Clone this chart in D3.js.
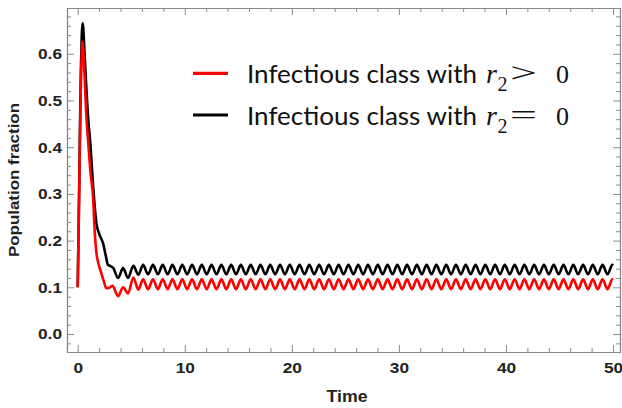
<!DOCTYPE html>
<html><head><meta charset="utf-8">
<script src="https://cdn.jsdelivr.net/npm/d3@7"></script>
<style>body{margin:0;background:#fff}</style>
</head><body><svg id="c" width="622" height="408"></svg>
<script>
// ---- data ----
const xTicks = [0, 10, 20, 30, 40, 50];
const yTicks = [0.0, 0.1, 0.2, 0.3, 0.4, 0.5, 0.6];
const xLabel = "Time";
const yLabel = "Population fraction";
const seriesNames = ["Infectious class with", "Infectious class with"];
const seriesRel = [">", "="];
const seriesColors = ["#ff0000", "#000000"];

// transient part
const blackT = [0, 0.1, 0.2, 0.3, 0.38, 0.45, 0.52, 0.6, 0.8, 1.0, 1.18, 1.4, 1.6, 1.75, 2.0, 2.37, 2.6, 2.83, 3.1, 3.3, 3.77, 4.24, 4.70];
const blackV = [0.10, 0.25, 0.42, 0.57, 0.64, 0.665, 0.655, 0.62, 0.53, 0.455, 0.408, 0.33, 0.27, 0.237, 0.215, 0.194, 0.17, 0.148, 0.145, 0.142, 0.120, 0.141, 0.120];
const redT = [0, 0.1, 0.2, 0.3, 0.38, 0.45, 0.52, 0.6, 0.8, 0.99, 1.2, 1.43, 1.6, 1.75, 1.95, 2.21, 2.45, 2.68, 2.95, 3.24, 3.77, 4.24, 4.70];
const redV = [0.10, 0.24, 0.40, 0.54, 0.605, 0.626, 0.612, 0.575, 0.47, 0.408, 0.345, 0.294, 0.215, 0.173, 0.15, 0.130, 0.112, 0.098, 0.099, 0.103, 0.081, 0.100, 0.087];

// steady oscillation: times of successive peaks / troughs
const oscT = [5.20, 5.66, 6.11, 6.57, 7.03, 7.49, 7.94, 8.40, 8.85, 9.31, 9.77, 10.22, 10.68, 11.14, 11.59, 12.05,
  12.50, 12.96, 13.42, 13.88, 14.33, 14.79, 15.24, 15.70, 16.16, 16.62, 17.07, 17.53, 17.98, 18.44, 18.90, 19.35,
  19.81, 20.27, 20.72, 21.18, 21.63, 22.09, 22.55, 23.01, 23.46, 23.92, 24.37, 24.83, 25.29, 25.75, 26.20, 26.66,
  27.11, 27.57, 28.03, 28.48, 28.94, 29.40, 29.85, 30.31, 30.76, 31.22, 31.68, 32.14, 32.59, 33.05, 33.50, 33.96,
  34.42, 34.87, 35.33, 35.79, 36.24, 36.70, 37.16, 37.61, 38.07, 38.53, 38.98, 39.44, 39.89, 40.35, 40.81, 41.27,
  41.72, 42.18, 42.63, 43.09, 43.55, 44.00, 44.46, 44.92, 45.37, 45.83, 46.29, 46.74, 47.20, 47.66, 48.11, 48.57,
  49.02, 49.48, 49.94, 50.0];
const blackOsc = [0.146, 0.127, 0.148, 0.128, 0.148, 0.128, 0.148, 0.128, 0.148, 0.128, 0.148, 0.128, 0.148, 0.128, 0.148, 0.128,
  0.148, 0.128, 0.148, 0.128, 0.148, 0.128, 0.148, 0.128, 0.148, 0.128, 0.148, 0.128, 0.148, 0.128, 0.148, 0.128,
  0.148, 0.128, 0.148, 0.128, 0.148, 0.128, 0.148, 0.128, 0.148, 0.128, 0.148, 0.128, 0.148, 0.128, 0.148, 0.128,
  0.148, 0.128, 0.148, 0.128, 0.148, 0.128, 0.148, 0.128, 0.148, 0.128, 0.148, 0.128, 0.148, 0.128, 0.148, 0.128,
  0.148, 0.128, 0.148, 0.128, 0.148, 0.128, 0.148, 0.128, 0.148, 0.128, 0.148, 0.128, 0.148, 0.128, 0.148, 0.128,
  0.148, 0.128, 0.148, 0.128, 0.148, 0.128, 0.148, 0.128, 0.148, 0.128, 0.148, 0.128, 0.148, 0.128, 0.148, 0.128,
  0.148, 0.128, 0.148, 0.147];
const redOsc = [0.121, 0.095, 0.117, 0.096, 0.117, 0.096, 0.117, 0.096, 0.117, 0.096, 0.117, 0.096, 0.117, 0.096, 0.117, 0.096,
  0.117, 0.096, 0.117, 0.096, 0.117, 0.096, 0.117, 0.096, 0.117, 0.096, 0.117, 0.096, 0.117, 0.096, 0.117, 0.096,
  0.117, 0.096, 0.117, 0.096, 0.117, 0.096, 0.117, 0.096, 0.117, 0.096, 0.117, 0.096, 0.117, 0.096, 0.117, 0.096,
  0.117, 0.096, 0.117, 0.096, 0.117, 0.096, 0.117, 0.096, 0.117, 0.096, 0.117, 0.096, 0.117, 0.096, 0.117, 0.096,
  0.117, 0.096, 0.117, 0.096, 0.117, 0.096, 0.117, 0.096, 0.117, 0.096, 0.117, 0.096, 0.117, 0.096, 0.117, 0.096,
  0.117, 0.096, 0.117, 0.096, 0.117, 0.096, 0.117, 0.096, 0.117, 0.096, 0.117, 0.096, 0.117, 0.096, 0.117, 0.096,
  0.117, 0.096, 0.117, 0.116];

// ---- layout ----
const svg = d3.select("#c");
const x = d3.scaleLinear().domain([-1.0, 50.65]).range([67, 620]);
const y = d3.scaleLinear().domain([-0.0385, 0.698]).range([352, 8]);
const frameColor = "#8a8a8a";
const axisFont = "'Liberation Sans', Arial, sans-serif";

svg.append("rect").attr("width", 622).attr("height", 408).attr("fill", "#fff");

const toPts = (T, V) => T.map((t, i) => [t, V[i]]);
const blackPts = toPts(blackT, blackV).concat(toPts(oscT, blackOsc));
const redPts = toPts(redT, redV).concat(toPts(oscT, redOsc));

const line = d3.line().x(d => x(d[0])).y(d => y(d[1])).curve(d3.curveMonotoneX);
svg.append("path").attr("d", line(blackPts)).attr("fill", "none").attr("stroke", seriesColors[1]).attr("stroke-width", 2.6).attr("stroke-linejoin", "round");
svg.append("path").attr("d", line(redPts)).attr("fill", "none").attr("stroke", seriesColors[0]).attr("stroke-width", 2.6).attr("stroke-linejoin", "round");

// frame with inward ticks on all four sides
const xMinor = d3.range(0, 51, 2).filter(v => v % 10 !== 0);
const yMinor = d3.range(-0.02, 0.69, 0.02).filter(v => Math.abs(Math.round(v * 10) - v * 10) > 1e-6);
const axB = d3.axisBottom(x).tickValues(xTicks).tickSizeInner(-7).tickSizeOuter(0).tickFormat(d3.format("d")).tickPadding(10);
const axBm = d3.axisBottom(x).tickValues(xMinor).tickSizeInner(-4).tickSizeOuter(0).tickFormat("");
const axT = d3.axisTop(x).tickValues(xTicks).tickSizeInner(-7).tickSizeOuter(0).tickFormat("");
const axTm = d3.axisTop(x).tickValues(xMinor).tickSizeInner(-4).tickSizeOuter(0).tickFormat("");
const axL = d3.axisLeft(y).tickValues(yTicks).tickSizeInner(-7).tickSizeOuter(0).tickFormat(d3.format(".1f")).tickPadding(5);
const axLm = d3.axisLeft(y).tickValues(yMinor).tickSizeInner(-4).tickSizeOuter(0).tickFormat("");
const axR = d3.axisRight(y).tickValues(yTicks).tickSizeInner(-7).tickSizeOuter(0).tickFormat("");
const axRm = d3.axisRight(y).tickValues(yMinor).tickSizeInner(-4).tickSizeOuter(0).tickFormat("");

function put(ax, tr) {
  const g = svg.append("g").attr("transform", tr).call(ax);
  g.selectAll(".domain").attr("stroke", frameColor).attr("stroke-width", 1.2);
  g.selectAll(".tick line").attr("stroke", frameColor).attr("stroke-width", 1);
  g.selectAll("text").attr("font-family", axisFont).attr("font-weight", "bold")
    .attr("font-size", 15).attr("fill", "#222")
    .each(function () {
      const w = this.getComputedTextLength();
      if (w > 0) d3.select(this).attr("textLength", w * 1.15).attr("lengthAdjust", "spacingAndGlyphs");
    });
  return g;
}
put(axB, "translate(0,352)"); put(axBm, "translate(0,352)");
put(axT, "translate(0,8)"); put(axTm, "translate(0,8)");
put(axL, "translate(67,0)"); put(axLm, "translate(67,0)");
put(axR, "translate(620,0)"); put(axRm, "translate(620,0)");

// axis titles
svg.append("text").attr("x", 347).attr("y", 402).attr("text-anchor", "middle")
  .attr("font-family", axisFont).attr("font-weight", "bold").attr("font-size", 17)
  .attr("fill", "#222").attr("textLength", 41).attr("lengthAdjust", "spacingAndGlyphs").text(xLabel);
svg.append("text").attr("transform", "translate(19,180) rotate(-90)").attr("text-anchor", "middle")
  .attr("font-family", axisFont).attr("font-weight", "bold").attr("font-size", 14.5)
  .attr("fill", "#222").attr("textLength", 154).attr("lengthAdjust", "spacingAndGlyphs").text(yLabel);

// legend
const lg = svg.append("g");
seriesNames.forEach((name, i) => {
  const base = 83 + i * 41.5;
  const midY = 73.3 + i * 41.7;
  lg.append("line").attr("x1", 193).attr("x2", 228).attr("y1", midY).attr("y2", midY)
    .attr("stroke", seriesColors[i]).attr("stroke-width", 3.2);
  lg.append("text").attr("x", 247).attr("y", base).attr("font-family", "Lato, 'Open Sans', sans-serif")
    .attr("font-size", 25.5).attr("fill", "#111").attr("textLength", 230).attr("lengthAdjust", "spacingAndGlyphs")
    .text(name);
  lg.append("text").attr("x", 486).attr("y", base).attr("font-family", "'Liberation Serif', serif").attr("font-style", "italic")
    .attr("font-size", 28).attr("fill", "#111").text("r");
  lg.append("text").attr("x", 497.5).attr("y", base + 8).attr("font-family", "'Liberation Serif', serif")
    .attr("font-size", 20).attr("fill", "#111").text("2");
  lg.append("text").attr("x", 510).attr("y", base - 1).attr("font-family", "'Liberation Serif', serif")
    .attr("font-size", 28).attr("fill", "#111").attr("textLength", 27).attr("lengthAdjust", "spacingAndGlyphs").text(seriesRel[i]);
  lg.append("text").attr("x", 556).attr("y", base).attr("font-family", "'Liberation Serif', serif")
    .attr("font-size", 26).attr("fill", "#111").text("0");
});
</script></body></html>
